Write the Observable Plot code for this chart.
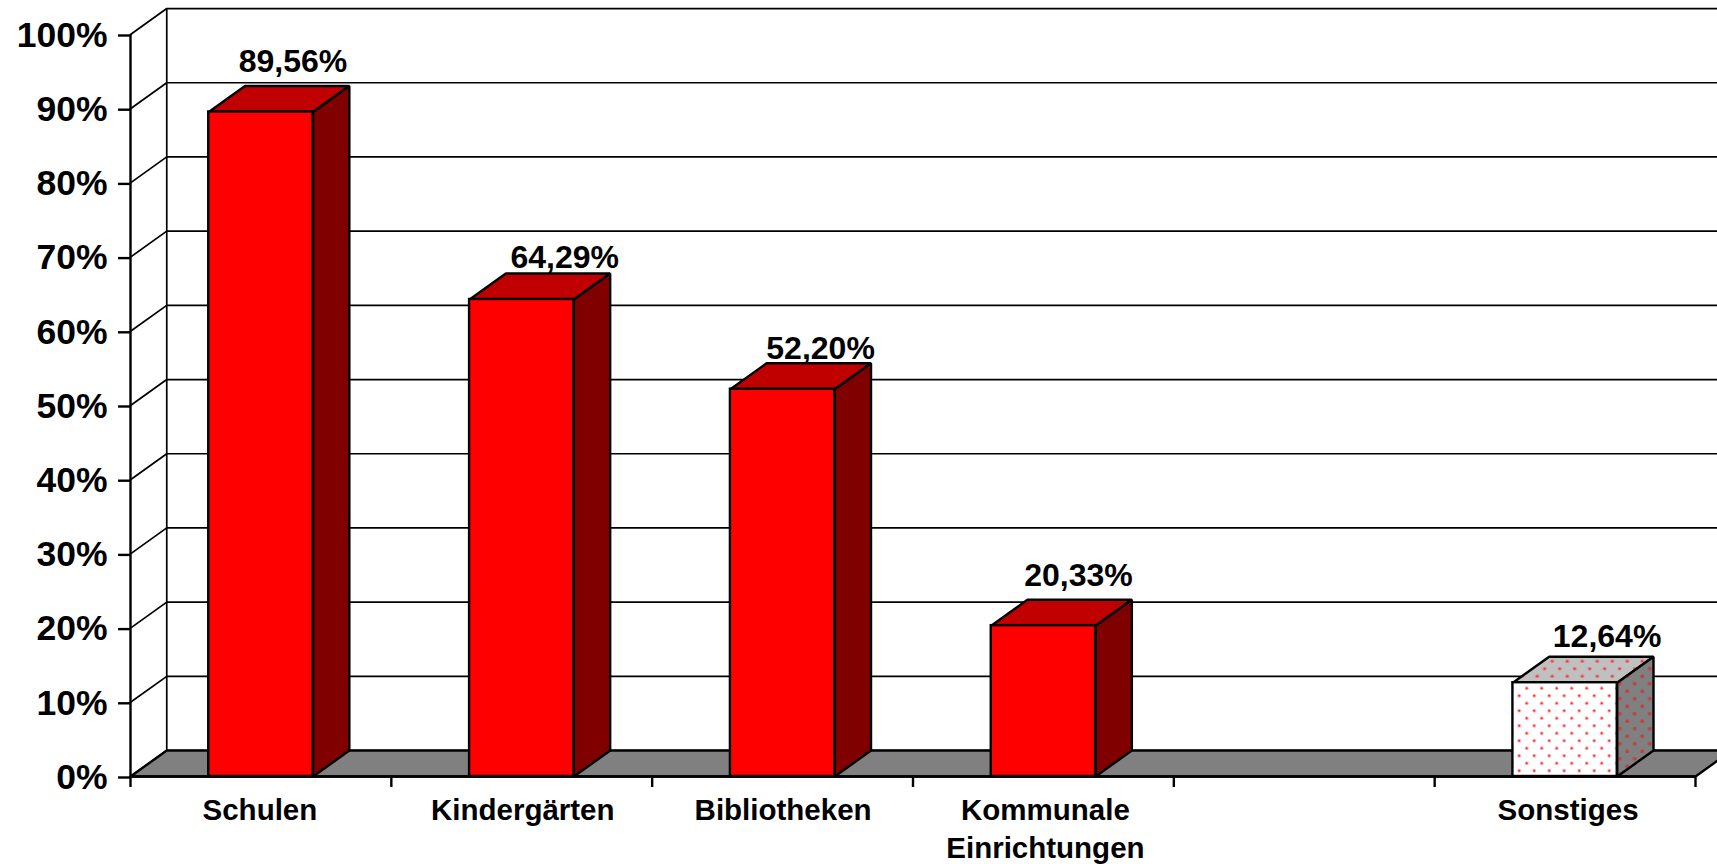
<!DOCTYPE html>
<html><head><meta charset="utf-8">
<script src="https://cdn.jsdelivr.net/npm/d3@7"></script>
<script src="https://cdn.jsdelivr.net/npm/@observablehq/plot@0.6"></script>
<style>html,body{margin:0;padding:0;background:#fff;overflow:hidden}svg{display:block}</style>
</head><body><div id="c"></div>
<script>
const categories = ["Schulen","Kindergärten","Bibliotheken","Kommunale\nEinrichtungen","","Sonstiges"];
const values = [89.56,64.29,52.20,20.33,null,12.64];
const labels = ["89,56%","64,29%","52,20%","20,33%","","12,64%"];
const yTicks = [0,10,20,30,40,50,60,70,80,90,100];
const xTicks = [0,1,2,3,4,5,6];

// layout constants
const font = "'Liberation Sans', Arial, sans-serif";
const DX = 0.139, DY = 3.5, HALF = 0.2;
const labelNudge = [[32,-50],[43,-42],[38,-40],[35,-50],[0,0],[42,-46]];
const categoryNudge = [-1,1,0.5,2,0,3];

const bars = values.map((v,i)=>({i,v,c:i+0.5})).filter(d=>d.v!=null);
const poly = (id,pts)=>pts.map(([x,y])=>({id,x,y}));
const closed = pts=>[...pts,pts[0]];
const topFace = d=>closed([[d.c-HALF,d.v],[d.c+HALF,d.v],[d.c+HALF+DX,d.v+DY],[d.c-HALF+DX,d.v+DY]]);
const sideFace = d=>closed([[d.c+HALF,0],[d.c+HALF+DX,DY],[d.c+HALF+DX,d.v+DY],[d.c+HALF,d.v]]);
const faces = (list,f)=>list.flatMap(d=>poly(d.i,f(d)));
const solid = bars.filter(d=>d.i!==5), dotted = bars.filter(d=>d.i===5);
const LW = 2.4;

const patterns = ()=>{
  const ns="http://www.w3.org/2000/svg";
  const defs=document.createElementNS(ns,"defs");
  [["dotsWhite","#ffffff","translate(0,0)","#ffb4b4"],["dotsTop","#c0c0c0","translate(-5,-12.5)","#d08888"],["dotsSide","#808080","translate(-5,-12.5)","#a05050"]].forEach(([id,bg,tr,halo])=>{
    const p=document.createElementNS(ns,"pattern");
    p.setAttribute("id",id);p.setAttribute("patternUnits","userSpaceOnUse");
    p.setAttribute("width",15);p.setAttribute("height",15);
    p.setAttribute("patternTransform",tr);
    p.innerHTML=`<rect width="15" height="15" fill="${bg}"/>`+[[11.7,13.2],[4.2,5.7]].map(([cx,cy])=>`<circle cx="${cx}" cy="${cy}" r="2" fill="${halo}"/><circle cx="${cx}" cy="${cy}" r="1" fill="#ff2828"/>`).join("");
    defs.appendChild(p);
  });
  return defs;
};
const faceLine=(data,fill)=>Plot.line(data,{x:"x",y:"y",z:"id",fill,stroke:"#000",strokeWidth:LW,strokeLinejoin:"miter",curve:"linear"});

const chart = Plot.plot({
  width:1717,height:864,marginLeft:130,marginRight:22,marginTop:34,marginBottom:88,
  style:{background:"#fff",overflow:"hidden",fontFamily:font,color:"#000"},
  x:{type:"linear",domain:[0,6],axis:null},
  y:{type:"linear",domain:[0,100],axis:null},
  marks:[
    patterns,
    // wall gridlines
    Plot.ruleY(yTicks,{y:d=>d+DY,x1:DX,x2:6+DX,stroke:"#000",strokeWidth:1.7}),
    Plot.link(yTicks,{x1:0,y1:d=>d,x2:DX,y2:d=>d+DY,stroke:"#000",strokeWidth:1.7}),
    Plot.link([0],{x1:DX,x2:DX,y1:DY,y2:100+DY,stroke:"#000",strokeWidth:1.7}),
    // floor
    faceLine(poly("floor",closed([[0,0],[DX,DY],[6+DX,DY],[6,0]])),"#808080"),
    // bars
    faceLine(faces(solid,topFace),"#c00000"),
    faceLine(faces(solid,sideFace),"#800000"),
    Plot.rect(solid,{x1:d=>d.c-HALF,x2:d=>d.c+HALF,y1:0,y2:"v",fill:"#ff0000",stroke:"#000",strokeWidth:LW}),
    faceLine(faces(dotted,topFace),"url(#dotsTop)"),
    faceLine(faces(dotted,sideFace),"url(#dotsSide)"),
    Plot.rect(dotted,{x1:d=>d.c-HALF,x2:d=>d.c+HALF,y1:0,y2:"v",fill:"url(#dotsWhite)",stroke:"#000",strokeWidth:LW}),
    // axes
    Plot.ruleX([0],{y1:0,y2:100,stroke:"#000",strokeWidth:LW}),
    Plot.ruleY([0],{x1:0,x2:6,stroke:"#000",strokeWidth:LW}),
    Plot.axisY({ticks:yTicks,tickFormat:d=>d+"%",tickSize:12,tickPadding:11,strokeWidth:LW,fontSize:35.5,fontWeight:"bold",fontFamily:font,fill:"#000",label:null,textStroke:"none",dy:1}),
    Plot.axisX({ticks:xTicks,tickFormat:()=>"",tickSize:11,strokeWidth:LW,label:null}),
    // category labels
    ...categories.map((t,i)=>Plot.text([{t,c:i+0.5}],{x:"c",y:0,text:"t",dy:17,dx:categoryNudge[i],lineAnchor:"top",lineHeight:1.27,fontSize:29.5,fontWeight:"bold",fontFamily:font,fill:"#000"})),
    // value labels
    ...bars.map(d=>Plot.text([d],{x:"c",y:"v",text:e=>labels[e.i],dx:labelNudge[d.i][0],dy:labelNudge[d.i][1],fontSize:32,fontWeight:"bold",fontFamily:font,fill:"#000"}))
  ]
});
document.getElementById("c").appendChild(chart);
</script></body></html>
